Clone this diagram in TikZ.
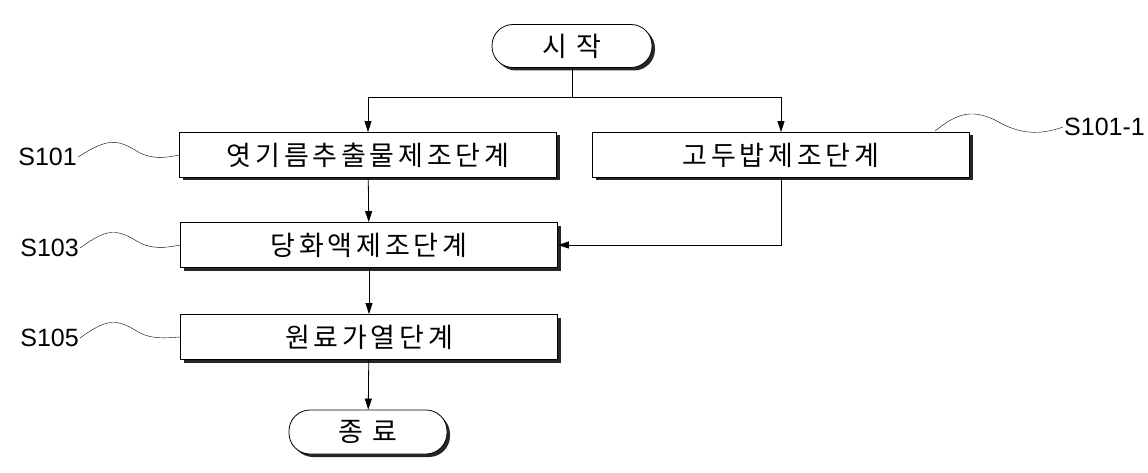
\documentclass[tikz,border=0pt]{standalone}
\usepackage{fontspec}
\setmainfont{Liberation Sans}
\newfontfamily\kr[LetterSpace=14]{Noto Sans CJK KR}
\usetikzlibrary{arrows.meta,shadows}
\begin{document}
\begin{tikzpicture}[x=1pt,y=-1pt,
 box/.style={draw,thick,fill=white,minimum width=377pt,minimum height=45pt,font=\kr\fontsize{27}{29}\selectfont,inner sep=0pt,drop shadow={shadow xshift=3pt,shadow yshift=-3pt,fill=black,opacity=.85}},
 term/.style={box,rounded corners=21pt,minimum width=160pt,minimum height=43pt},
 arr/.style={-{Triangle[length=11pt,width=7pt]},thick},
 lab/.style={font=\fontsize{25}{27}\selectfont},
 wav/.style={thin}]
\useasboundingbox (0,0) rectangle (1148,473);
\node[term] (st) at (572,46) {시 작};
\node[box] (b1) at (368,155) {엿기름추출물제조단계};
\node[box] (br) at (781,155) {고두밥제조단계};
\node[box] (b2) at (369,245) {당화액제조단계};
\node[box] (b3) at (369,337) {원료가열단계};
\node[term,minimum width=158pt,minimum height=44pt] (en) at (368,432) {종 료};
\coordinate (j) at (572,97);
\draw[thick] (st.south) -- (j);
\draw[arr] (j) -| (b1.north);
\draw[arr] (j) -| (br.north);
\draw[arr] (b1) -- (b2);
\draw[arr] (br.south) |- (b2.east);
\draw[arr] (b2) -- (b3);
\draw[arr] (b3) -- (en);
\node[lab,anchor=east,inner sep=1pt] (l1) at (78,157) {S101};
\node[lab,anchor=east,inner sep=1pt] (l3) at (80,248) {S103};
\node[lab,anchor=east,inner sep=1pt] (l5) at (80,338) {S105};
\node[lab,anchor=east,inner sep=1pt] (l11) at (1146,127) {S101-1};
\draw[wav] (l1.east) .. controls (105,140) and (115,138) .. (135,150) .. controls (150,160) and (165,158) .. (b1.west);
\draw[wav] (l3.east) .. controls (105,230) and (115,228) .. (135,240) .. controls (150,250) and (165,248) .. (b2.west);
\draw[wav] (l5.east) .. controls (105,320) and (115,318) .. (135,330) .. controls (150,340) and (165,338) .. (b3.west);
\coordinate (rt) at (935,131);
\draw[wav] (rt) .. controls (955,115) and (970,108) .. (995,120) .. controls (1020,135) and (1040,135) .. (l11.west);
\end{tikzpicture}
\end{document}
